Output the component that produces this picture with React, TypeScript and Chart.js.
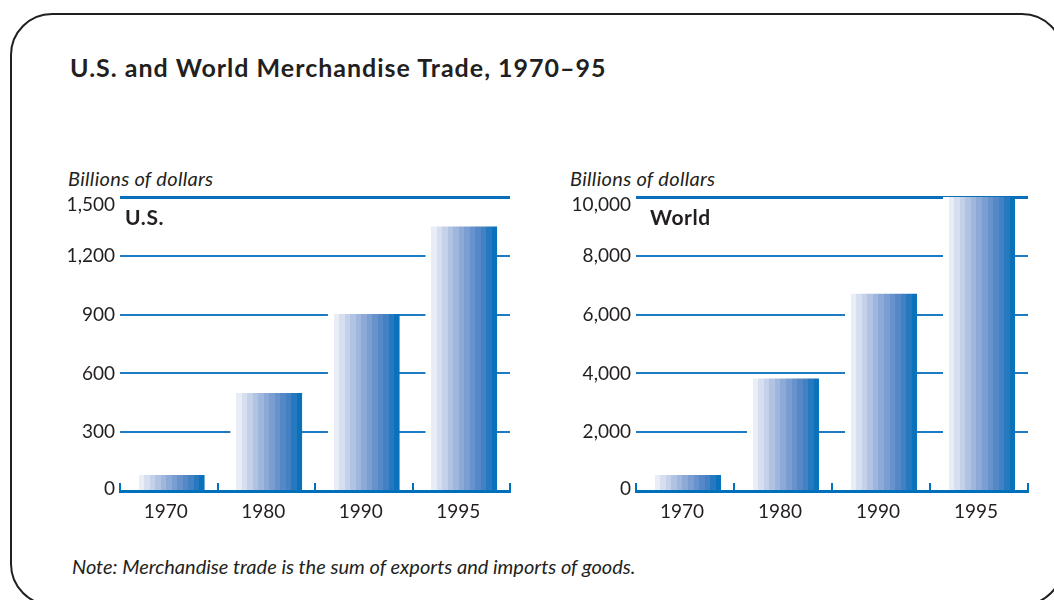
import React, { useEffect, useRef } from "react";
import { Chart, registerables } from "chart.js";

Chart.register(...registerables);

// ---- data ----
const years = ["1970", "1980", "1990", "1995"];
const usTrade = [82, 500, 903, 1350];
const worldTrade = [540, 3830, 6710, 10000];
const usTicks = [0, 300, 600, 900, 1200, 1500];
const worldTicks = [0, 2000, 4000, 6000, 8000, 10000];

// ---- style ----
const INK = "#231f20";
const BLUE = "#0070ba";
const GRID = "#1e7bc2";
const TOP_LINE = "#0a6fba";
const STEPS = [
  "#e9edf6", "#d6dff0", "#c4d1e9", "#b1c3e3", "#9fb6dd", "#8daad7",
  "#7a9ed2", "#6892cc", "#5688c7", "#4281c3", "#2679bf", "#0a72bb",
];
const FONT = "Lato, 'DejaVu Sans', sans-serif";
const BAR_FRACTION = 0.735;
const WHITE_GAP = 6;

function barFill(c: any) {
  const chart = c.chart;
  const xs = chart.scales && chart.scales.x;
  if (!xs || !chart.chartArea) return STEPS[6];
  const center = xs.getPixelForValue(c.dataIndex);
  const cat = xs.getPixelForValue(0.5) - xs.getPixelForValue(-0.5);
  const w = cat * BAR_FRACTION;
  const x0 = center - w / 2;
  const x1 = center + w / 2;
  if (!isFinite(x0) || !isFinite(x1) || w <= 0) return STEPS[6];
  const g = chart.ctx.createLinearGradient(x0, 0, x1, 0);
  const wf = Math.min(0.5, WHITE_GAP / w);
  g.addColorStop(0, "#ffffff");
  g.addColorStop(wf, "#ffffff");
  const n = STEPS.length;
  STEPS.forEach((col, i) => {
    const a = wf + ((1 - wf) * i) / n;
    const b = wf + ((1 - wf) * (i + 1)) / n;
    g.addColorStop(a, col);
    g.addColorStop(b, col);
  });
  return g;
}

function makeDecor(ticks: number[], panelLabel: string, labelDx: number) {
  return {
    id: "decor",
    afterDraw(chart: any) {
      const { ctx, chartArea: a } = chart;
      const x = chart.scales.x;
      const y = chart.scales.y;
      const max = ticks[ticks.length - 1];
      ctx.save();
      // boundary tick marks on the category axis
      ctx.strokeStyle = BLUE;
      ctx.lineWidth = 2;
      for (let i = 0; i <= years.length; i++) {
        const px = Math.round(x.getPixelForValue(i - 0.5));
        ctx.beginPath();
        ctx.moveTo(px, a.bottom - 8);
        ctx.lineTo(px, a.bottom);
        ctx.stroke();
      }
      // y labels
      ctx.fillStyle = INK;
      ctx.font = `19px ${FONT}`;
      ctx.textAlign = "right";
      ctx.textBaseline = "middle";
      ticks.forEach((v) => {
        let py = y.getPixelForValue(v);
        if (v === max) py += 8;
        if (v === 0) py -= 2;
        ctx.fillText(v.toLocaleString("en-US"), a.left - 5, py);
      });
      // x labels
      ctx.textAlign = "center";
      years.forEach((lab, i) => {
        ctx.fillText(lab, x.getPixelForValue(i) - 3, a.bottom + 21);
      });
      // panel label
      ctx.font = `bold 21px ${FONT}`;
      (ctx as any).letterSpacing = "0.6px";
      ctx.textAlign = "left";
      ctx.fillText(panelLabel, a.left + labelDx, a.top + 21);
      ctx.restore();
    },
  };
}

function BarPanel(props: {
  values: number[];
  ticks: number[];
  label: string;
  labelDx: number;
  left: number;
  width: number;
  padLeft: number;
  padRight: number;
}) {
  const ref = useRef<HTMLCanvasElement>(null);
  const { values, ticks, label, labelDx, left, width, padLeft, padRight } = props;
  useEffect(() => {
    if (!ref.current) return;
    const max = ticks[ticks.length - 1];
    const chart = new Chart(ref.current, {
      type: "bar",
      data: {
        labels: years,
        datasets: [
          {
            data: values,
            backgroundColor: barFill,
            borderWidth: 0,
            barPercentage: BAR_FRACTION,
            categoryPercentage: 1,
          },
        ],
      },
      options: {
        responsive: false,
        animation: false,
        devicePixelRatio: 1,
        layout: { padding: { left: padLeft, right: padRight, top: 47, bottom: 59 } },
        plugins: { legend: { display: false }, tooltip: { enabled: false } },
        scales: {
          x: {
            offset: true,
            grid: { display: false, drawTicks: false },
            ticks: { display: false },
            border: { display: true, color: BLUE, width: 3, z: 1 },
          },
          y: {
            min: 0,
            max: max,
            afterBuildTicks: (axis: any) => {
              axis.ticks = ticks.map((v) => ({ value: v }));
            },
            grid: {
              drawTicks: false,
              color: (c: any) => (c.tick && c.tick.value === max ? TOP_LINE : GRID),
              lineWidth: (c: any) => (c.tick && c.tick.value === max ? 3 : 2),
            },
            ticks: { display: false },
            border: { display: false },
          },
        },
      },
      plugins: [makeDecor(ticks, label, labelDx)],
    });
    return () => chart.destroy();
  }, []);
  return (
    <canvas
      ref={ref}
      width={width}
      height={400}
      style={{ position: "absolute", left, top: 150, width, height: 400 }}
    />
  );
}

const textBase: React.CSSProperties = {
  position: "absolute",
  whiteSpace: "nowrap",
  lineHeight: 1,
  color: INK,
  fontFamily: FONT,
};

export default function App() {
  return (
    <div
      style={{
        position: "fixed",
        left: 0,
        top: 0,
        width: 1054,
        height: 600,
        overflow: "hidden",
        background: "#fff",
      }}
    >
      <div
        style={{
          position: "absolute",
          left: 10,
          top: 13,
          width: 1054,
          height: 593,
          border: `2px solid ${INK}`,
          borderRadius: 42,
          boxSizing: "border-box",
        }}
      />
      <div
        style={{ ...textBase, left: 70, top: 55, fontSize: 25, fontWeight: 700, letterSpacing: 1 }}
      >
        U.S. and World Merchandise Trade, 1970–95
      </div>
      <div
        style={{ ...textBase, left: 68, top: 168, fontSize: 20, fontStyle: "italic", letterSpacing: 0.3 }}
      >
        Billions of dollars
      </div>
      <div
        style={{ ...textBase, left: 570, top: 168, fontSize: 20, fontStyle: "italic", letterSpacing: 0.3 }}
      >
        Billions of dollars
      </div>
      <BarPanel
        values={usTrade}
        ticks={usTicks}
        label="U.S."
        labelDx={5}
        left={0}
        width={530}
        padLeft={120}
        padRight={20}
      />
      <BarPanel
        values={worldTrade}
        ticks={worldTicks}
        label="World"
        labelDx={14}
        left={530}
        width={524}
        padLeft={106}
        padRight={26}
      />
      <div style={{ ...textBase, left: 72, top: 556, fontSize: 20, fontStyle: "italic" }}>
        Note: Merchandise trade is the sum of exports and imports of goods.
      </div>
    </div>
  );
}
